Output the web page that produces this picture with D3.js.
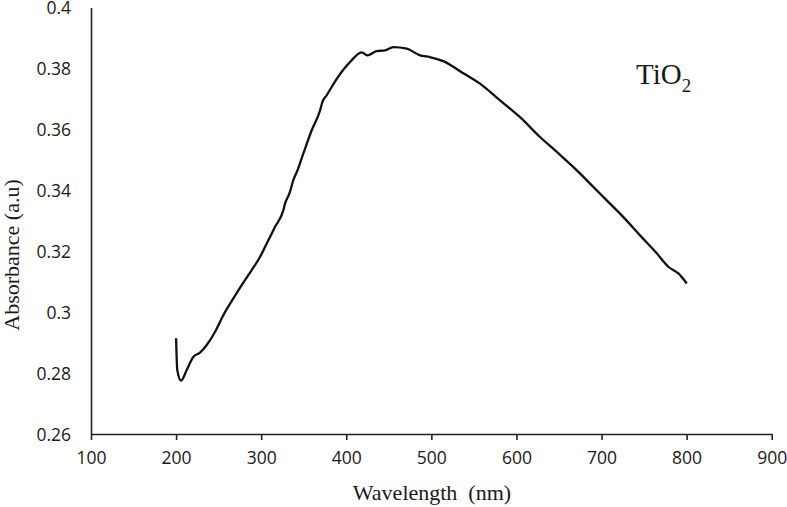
<!DOCTYPE html>
<html>
<head>
<meta charset="utf-8">
<script src="https://cdn.jsdelivr.net/npm/d3@7.9.0/dist/d3.min.js"></script>
<style>
  body { margin: 0; background: #fff; }
  svg { display: block; }
  .tick text { font-family: "Open Sans", sans-serif; font-size: 17.5px; fill: #1a1a1a; }
  .title { font-family: "Liberation Serif", "Times New Roman", serif; fill: #1a1a1a; }
</style>
</head>
<body>
<svg id="chart" width="787" height="507"></svg>
<script>
// wavelength (nm) and absorbance (a.u)
const wavelength = [200, 201.4, 205.8, 212.5, 220.2, 228.1, 236.0, 245.7, 255.5, 267.3,
  277.1, 288.9, 298.6, 306.5, 316.3, 326.0, 328.0, 333, 337.8, 343, 349.5, 359.4, 369.2,
  372, 377.0, 388.8, 404.4, 418.2, 424.8, 435.8, 445.6, 455.3, 471.1, 486.7, 498.4,
  514.1, 533.7, 557.2, 580.7, 604.2, 627.7, 647.4, 668.9, 686.5, 706.1, 725.7, 745.3,
  764.9, 778.5, 790.3, 800.2];
const absorbance = [0.2914, 0.2810, 0.2775, 0.2810, 0.2853, 0.2867, 0.2892, 0.2935, 0.2990, 0.3045,
  0.3089, 0.3138, 0.3181, 0.3225, 0.3280, 0.3334, 0.3356, 0.3388, 0.3433, 0.3468, 0.3520, 0.3597, 0.3662,
  0.3690, 0.3712, 0.3766, 0.3821, 0.3853, 0.3843, 0.3857, 0.3859, 0.3870, 0.3865, 0.3843, 0.3837,
  0.3824, 0.3791, 0.3750, 0.3695, 0.3640, 0.3575, 0.3526, 0.3471, 0.3422, 0.3367, 0.3312, 0.3252,
  0.3193, 0.3149, 0.3127, 0.3094];

const xTicks = [100, 200, 300, 400, 500, 600, 700, 800, 900];
const yTicks = [0.26, 0.28, 0.3, 0.32, 0.34, 0.36, 0.38, 0.4];

const svg = d3.select('#chart');

const x = d3.scaleLinear().domain([100, 900]).range([91, 771.7]);
const y = d3.scaleLinear().domain([0.26, 0.4]).range([434, 7.5]);

// axes
let xAxis = svg.append('g')
  .attr('transform', `translate(0,${y(0.26)})`)
  .call(d3.axisBottom(x).tickValues(xTicks).tickSizeInner(6).tickSizeOuter(0).tickPadding(12)
    .tickFormat(d3.format('d')));

let yAxis = svg.append('g')
  .attr('transform', `translate(${x(100)},0)`)
  .call(d3.axisLeft(y).tickValues(yTicks).tickSize(0).tickPadding(20)
    .tickFormat(d => String(+d.toFixed(2))));

svg.selectAll('.domain, .tick line').attr('stroke', '#222').attr('stroke-width', 1.6);
yAxis.selectAll('.tick text').attr('dy', '0.36em');
xAxis.selectAll('.tick text').attr('dy', '0.71em');

// the absorbance curve
const pts = wavelength.map((w, i) => [w, absorbance[i]]);
const line = d3.line().x(d => x(d[0])).y(d => y(d[1])).curve(d3.curveMonotoneX);

svg.append('path')
  .datum(pts)
  .attr('fill', 'none')
  .attr('stroke', '#111')
  .attr('stroke-width', 2.3)
  .attr('stroke-linejoin', 'round')
  .attr('d', line);

// titles
svg.append('text')
  .attr('class', 'title')
  .attr('x', 432).attr('y', 500)
  .attr('text-anchor', 'middle')
  .attr('font-size', 22)
  .attr('xml:space', 'preserve')
  .text('Wavelength  (nm)');

svg.append('text')
  .attr('class', 'title')
  .attr('transform', 'translate(19,255) rotate(-90)')
  .attr('text-anchor', 'middle')
  .attr('font-size', 22)
  .text('Absorbance (a.u)');

let label = svg.append('text')
  .attr('class', 'title')
  .attr('x', 636).attr('y', 84)
  .attr('font-size', 29);
label.append('tspan').text('TiO');
label.append('tspan').attr('font-size', 19).attr('dy', 8).text('2');
</script>
</body>
</html>
